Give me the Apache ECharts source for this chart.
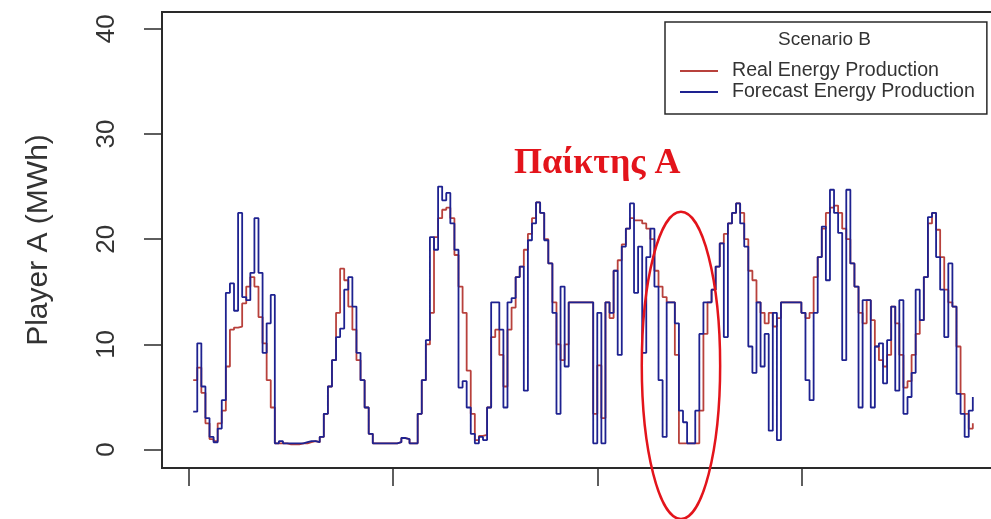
<!DOCTYPE html>
<html>
<head>
<meta charset="utf-8">
<script src="https://cdn.jsdelivr.net/npm/echarts@6/dist/echarts.min.js"></script>
<style>
  html, body { margin: 0; padding: 0; background: #ffffff; }
  #chart { width: 991px; height: 519px; }
</style>
</head>
<body>
<div id="chart"></div>
<script>
// Hourly energy production over eight days (MWh), scenario B
const yTicks = [0, 10, 20, 30, 40];
const xTicks = [0, 50, 100, 150];

const realProduction = [
  6.6, 7.8, 5.4, 2.5, 1.0, 0.8, 2.5, 3.7, 7.9, 11.4,
  11.6, 11.7, 13.9, 15.5, 16.4, 15.5, 12.6, 10.1, 6.6, 4.0,
  0.6, 0.6, 0.6, 0.5, 0.5, 0.5, 0.6, 0.6, 0.7, 0.8,
  0.7, 1.2, 3.4, 6.0, 8.5, 13.0, 17.2, 16.1, 13.6, 11.4,
  8.5, 6.6, 4.0, 1.5, 0.6, 0.6, 0.6, 0.6, 0.6, 0.6,
  0.7, 1.1, 1.0, 0.6, 0.6, 3.4, 6.6, 10.0, 13.0, 20.2,
  22.0, 22.8, 23.0, 22.0, 18.5, 15.5, 13.0, 7.5, 3.4, 0.9,
  1.3, 1.4, 4.0, 10.7, 11.4, 9.0, 6.0, 11.4, 13.5, 16.4,
  17.4, 19.0, 20.5, 22.0, 23.5, 22.5, 20.0, 17.7, 14.0, 10.0,
  8.5, 10.0, 14.0, 14.0, 14.0, 14.0, 14.0, 14.0, 3.4, 8.0,
  3.0, 14.0, 12.5, 17.0, 18.0, 19.5, 21.0, 22.0, 21.8, 21.8,
  21.5, 21.0, 20.0, 17.0, 15.5, 14.5, 14.0, 14.0, 9.0, 0.6,
  0.6, 0.6, 0.6, 0.6, 3.7, 11.0, 14.0, 15.2, 17.4, 19.6,
  20.5, 21.5, 22.5, 23.4, 22.5, 20.0, 17.0, 16.1, 14.0, 13.0,
  12.0, 13.0, 11.7, 12.5, 14.0, 14.0, 14.0, 14.0, 14.0, 13.0,
  12.5, 13.0, 16.4, 18.3, 21.0, 22.5, 23.0, 23.2, 22.5, 21.0,
  20.0, 17.7, 15.5, 13.0, 12.0, 14.2, 12.3, 9.8, 8.5, 7.9,
  9.0, 13.6, 12.0, 9.0, 5.9, 6.5, 9.0, 11.0, 12.3, 16.4,
  21.5, 22.5, 20.9, 18.3, 15.2, 14.0, 13.6, 9.8, 5.3, 3.4,
  2.0, 2.5
];

const forecastProduction = [
  3.6, 10.1, 6.0, 3.0, 1.2, 0.7, 2.0, 4.7, 14.9, 15.8,
  13.2, 22.5, 14.5, 14.2, 16.8, 22.0, 16.8, 9.2, 12.0, 14.7,
  0.6, 0.8, 0.6, 0.6, 0.6, 0.6, 0.6, 0.7, 0.8, 0.8,
  0.7, 1.2, 3.4, 6.0, 8.5, 10.7, 11.5, 15.2, 16.4, 13.6,
  9.2, 6.6, 4.0, 1.5, 0.6, 0.6, 0.6, 0.6, 0.6, 0.6,
  0.7, 1.1, 1.0, 0.6, 0.6, 3.4, 6.6, 10.4, 20.2, 19.0,
  25.0, 23.7, 24.4, 21.5, 19.0, 5.9, 6.5, 4.0, 1.5, 0.6,
  1.2, 0.9, 4.0, 14.0, 14.0, 11.4, 4.0, 14.0, 14.4, 16.4,
  17.4, 5.6, 19.9, 21.5, 23.5, 22.5, 19.9, 17.7, 13.0, 3.4,
  15.5, 7.9, 14.0, 14.0, 14.0, 14.0, 14.0, 14.0, 0.6, 13.0,
  0.6, 14.0, 13.0, 17.0, 9.0, 19.3, 21.0, 23.4, 14.9, 19.3,
  9.2, 18.3, 21.0, 15.5, 6.6, 1.2, 14.0, 14.0, 12.0, 3.7,
  2.6, 0.6, 0.6, 3.7, 11.0, 14.0, 14.0, 15.2, 17.4, 19.6,
  10.7, 21.5, 22.5, 23.4, 21.5, 19.3, 9.8, 7.3, 14.0, 7.9,
  11.0, 1.8, 13.0, 0.9, 14.0, 14.0, 14.0, 14.0, 14.0, 13.0,
  6.6, 4.7, 13.0, 18.3, 21.2, 16.1, 24.7, 22.5, 20.6, 8.5,
  24.7, 17.7, 15.5, 4.0, 14.2, 14.2, 4.0, 9.8, 10.1, 6.3,
  10.4, 13.6, 5.6, 14.2, 3.4, 5.0, 7.3, 15.2, 12.3, 16.4,
  22.1, 22.5, 18.3, 15.2, 10.7, 17.7, 13.6, 5.3, 3.4, 1.2,
  3.7, 5.0
];

const seriesNames = ['Real Energy Production', 'Forecast Energy Production'];
const seriesColors = ['#b8413c', '#1e2290'];
const legendTitle = 'Scenario B';
const yAxisTitle = 'Player A (MWh)';
const noteText = 'Παίκτης A';

// Annotation placed in data space: hour / MWh
const noteAt = [100, 27.2];
const ringCenter = [120.5, 8.0];
const ringHalfSize = [9.6, 14.6];

const toPairs = values => values.map((v, i) => [i + 1, v]);

const chart = echarts.init(document.getElementById('chart'), null, { renderer: 'canvas' });
const axisColor = '#2a2a2a';
const textColor = '#333333';
const sans = '"Liberation Sans", Arial, Helvetica, sans-serif';

chart.setOption({
  animation: false,
  backgroundColor: '#ffffff',
  title: {
    text: legendTitle,
    left: 778,
    top: 30,
    padding: 0,
    textStyle: { fontSize: 19, fontWeight: 'normal', color: textColor, fontFamily: sans }
  },
  legend: {
    orient: 'vertical',
    left: 665,
    top: 22,
    padding: [39, 12, 12, 15],
    itemGap: 1,
    itemWidth: 38,
    itemHeight: 2,
    borderColor: axisColor,
    borderWidth: 1.5,
    selectedMode: false,
    textStyle: { fontSize: 19.6, color: textColor, fontFamily: sans, padding: [0, 0, 0, 9] },
    data: seriesNames.map(n => ({ name: n, icon: 'rect' }))
  },
  grid: {
    left: 162,
    top: 12,
    width: 842,
    height: 456,
    outerBoundsMode: 'none',
    containLabel: false,
    show: true,
    borderColor: axisColor,
    borderWidth: 2,
    backgroundColor: 'transparent'
  },
  xAxis: {
    type: 'value',
    min: -6.64,
    max: 199.64,
    axisLine: { show: true, onZero: false, lineStyle: { color: axisColor, width: 2 } },
    axisTick: { show: true, customValues: xTicks, length: 18, lineStyle: { color: axisColor, width: 1.5 } },
    axisLabel: { show: false },
    splitLine: { show: false }
  },
  yAxis: {
    type: 'value',
    min: -1.75,
    max: 41.6,
    name: yAxisTitle,
    nameLocation: 'middle',
    nameRotate: 90,
    nameGap: 108,
    nameTextStyle: { fontSize: 30, color: textColor, fontFamily: sans },
    axisLine: { show: true, onZero: false, lineStyle: { color: axisColor, width: 2 } },
    axisTick: { show: true, customValues: yTicks, length: 18, lineStyle: { color: axisColor, width: 1.5 } },
    axisLabel: {
      customValues: yTicks,
      rotate: 90,
      margin: 42,
      fontSize: 26,
      color: textColor,
      fontFamily: sans
    },
    splitLine: { show: false }
  },
  series: [
    {
      name: seriesNames[0],
      type: 'line',
      step: 'end',
      showSymbol: false,
      color: seriesColors[0],
      lineStyle: { color: seriesColors[0], width: 1.8 },
      data: toPairs(realProduction),
      z: 2
    },
    {
      name: seriesNames[1],
      type: 'line',
      step: 'end',
      showSymbol: false,
      color: seriesColors[1],
      lineStyle: { color: seriesColors[1], width: 1.8 },
      data: toPairs(forecastProduction),
      z: 3
    }
  ]
});

// Annotation: label and ring computed through the chart's own scales
const notePx = chart.convertToPixel({ gridIndex: 0 }, noteAt);
const c = chart.convertToPixel({ gridIndex: 0 }, ringCenter);
const edge = chart.convertToPixel({ gridIndex: 0 }, [ringCenter[0] + ringHalfSize[0], ringCenter[1] + ringHalfSize[1]]);

chart.setOption({
  graphic: [
    {
      type: 'text',
      x: notePx[0],
      y: notePx[1],
      z: 100,
      style: {
        text: noteText,
        fill: '#e3141b',
        fontSize: 36,
        fontWeight: 'bold',
        fontFamily: '"Liberation Serif", "Times New Roman", serif',
        align: 'center',
        verticalAlign: 'middle'
      }
    },
    {
      type: 'ellipse',
      z: 100,
      shape: { cx: c[0], cy: c[1], rx: Math.abs(edge[0] - c[0]), ry: Math.abs(c[1] - edge[1]) },
      style: { fill: null, stroke: '#e3141b', lineWidth: 2.5 }
    }
  ]
});
</script>
</body>
</html>
